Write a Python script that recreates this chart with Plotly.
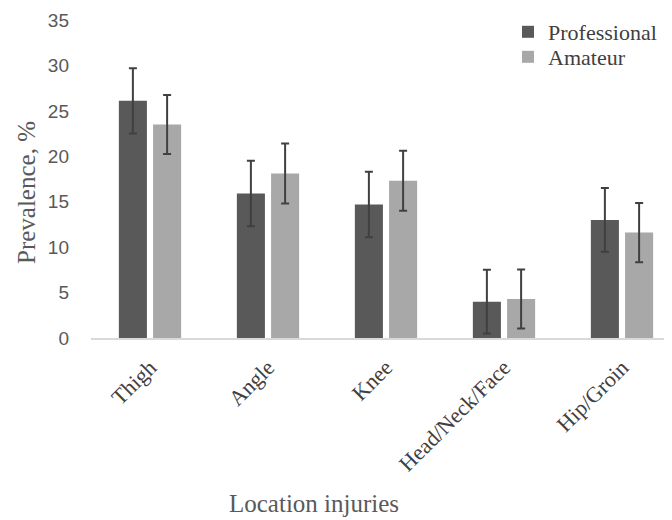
import plotly.graph_objects as go

categories = ["Thigh", "Angle", "Knee", "Head/Neck/Face", "Hip/Groin"]
professional = [26.1, 15.9, 14.7, 4.0, 13.0]
professional_err = [3.6, 3.6, 3.6, 3.5, 3.5]
amateur = [23.5, 18.1, 17.3, 4.3, 11.6]
amateur_err = [3.25, 3.3, 3.3, 3.25, 3.25]
y_ticks = [0, 5, 10, 15, 20, 25, 30, 35]

serif = "Liberation Serif, Times New Roman, serif"
sans = "Liberation Sans, Arial, sans-serif"

# page offset of the plotly div (default body margin)
OFF = 8
W, H = 672 - OFF, 520 - OFF
L, T, B = 91 - OFF, 20 - OFF, 182

fig = go.Figure()
fig.add_trace(go.Bar(
    x=categories, y=professional, name="Professional", legend="legend",
    marker=dict(color="#595959", line=dict(width=0)),
    error_y=dict(type="data", array=professional_err, color="#404040", thickness=2, width=4),
))
fig.add_trace(go.Bar(
    x=categories, y=amateur, name="Amateur", legend="legend2",
    marker=dict(color="#a8a8a8", line=dict(width=0)),
    error_y=dict(type="data", array=amateur_err, color="#404040", thickness=2, width=4),
))

pw = W - L
ph = H - T - B


def px_to_paper(px, py):
    return (px - OFF - L) / pw, (H - B - (py - OFF)) / ph


lx, ly1 = px_to_paper(508, 11)
_, ly2 = px_to_paper(508, 36)
ax1, ay1 = px_to_paper(26, 193)
ax2, ay2 = px_to_paper(314, 503)

leg_common = dict(xanchor="left", yanchor="top",
                  font=dict(family=serif, size=22, color="#404040"),
                  itemwidth=30, bgcolor="rgba(0,0,0,0)")

fig.update_layout(
    width=W, height=H,
    margin=dict(l=L, r=0, t=T, b=B),
    paper_bgcolor="white", plot_bgcolor="white",
    barmode="group", bargap=0.42, bargroupgap=0.18,
    showlegend=True,
    legend=dict(x=lx, y=ly1, **leg_common),
    legend2=dict(x=lx, y=ly2, **leg_common),
    xaxis=dict(range=[-0.5, -0.5 + pw / 118.0], tickangle=-45, showgrid=False,
               showline=True, linecolor="#d9d9d9", linewidth=2,
               ticks="", ticklabelstandoff=6,
               tickfont=dict(family=serif, size=22, color="#404040")),
    yaxis=dict(range=[0, 35], tickvals=y_ticks, showgrid=False, zeroline=False,
               showline=False, ticks="", ticklabelstandoff=21,
               tickfont=dict(family=sans, size=19, color="#595959")),
    annotations=[
        dict(text="Prevalence, %", x=ax1, y=ay1, xref="paper", yref="paper",
             xanchor="center", yanchor="middle", showarrow=False, textangle=-90,
             font=dict(family=serif, size=25, color="#595959")),
        dict(text="Location injuries", x=ax2, y=ay2, xref="paper", yref="paper",
             xanchor="center", yanchor="middle", showarrow=False,
             font=dict(family=serif, size=25, color="#595959")),
    ],
)
fig.write_html("out.html")
